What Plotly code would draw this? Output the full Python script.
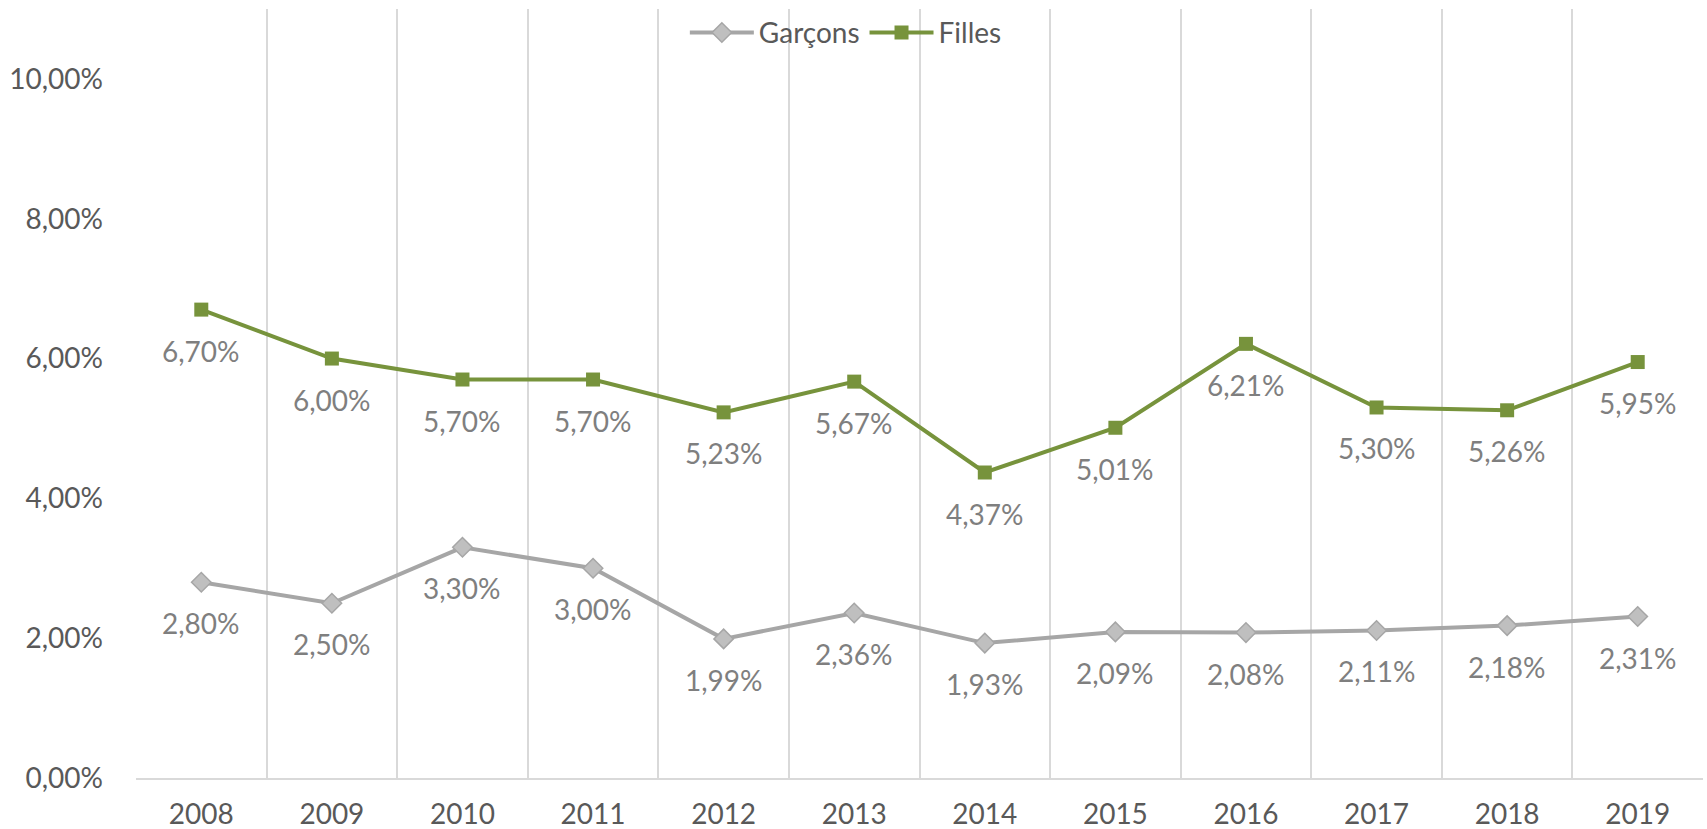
import plotly.graph_objects as go

years = ["2008", "2009", "2010", "2011", "2012", "2013", "2014", "2015", "2016", "2017", "2018", "2019"]
garcons = [2.80, 2.50, 3.30, 3.00, 1.99, 2.36, 1.93, 2.09, 2.08, 2.11, 2.18, 2.31]
filles = [6.70, 6.00, 5.70, 5.70, 5.23, 5.67, 4.37, 5.01, 6.21, 5.30, 5.26, 5.95]
y_tickvals = [0, 2, 4, 6, 8, 10]
y_ticktext = ["0,00%", "2,00%", "4,00%", "6,00%", "8,00%", "10,00%"]

GRAY_LINE = "#A6A6A6"
GRAY_FILL = "#BFBFBF"
GREEN = "#77933C"
TXT = "#595959"
LBL = "#7F7F7F"
FONT = "Lato"
FS = 28


def fmt(v):
    return f"{v:.2f}".replace(".", ",") + "%"


fig = go.Figure()
fig.add_trace(go.Scatter(
    x=years, y=garcons, name="Garçons", mode="lines+markers",
    line=dict(color=GRAY_LINE, width=4),
    marker=dict(symbol="diamond", size=15, color=GRAY_FILL, line=dict(color=GRAY_LINE, width=1.5)),
))
fig.add_trace(go.Scatter(
    x=years, y=filles, name="Filles", mode="lines+markers",
    line=dict(color=GREEN, width=4),
    marker=dict(symbol="square", size=14, color=GREEN),
))

annotations = []
for i, v in enumerate(garcons):
    annotations.append(dict(x=i, y=v, xref="x", yref="y", text=fmt(v), showarrow=False, yshift=-41,
                            font=dict(family=FONT, size=FS, color=LBL)))
for i, v in enumerate(filles):
    annotations.append(dict(x=i, y=v, xref="x", yref="y", text=fmt(v), showarrow=False, yshift=-41,
                            font=dict(family=FONT, size=FS, color=LBL)))

fig.update_layout(
    width=1707, height=829,
    margin=dict(l=136, r=4, t=9, b=51, autoexpand=False),
    paper_bgcolor="white", plot_bgcolor="white",
    font=dict(family=FONT, color=TXT, size=FS),
    annotations=annotations,
    showlegend=True,
    legend=dict(orientation="h", x=0.453, xanchor="center", y=0.969, yanchor="middle",
                bgcolor="rgba(0,0,0,0)", font=dict(family=FONT, size=FS, color=TXT),
                itemwidth=64, traceorder="normal"),
    xaxis=dict(type="category", range=[-0.5, 11.5], tickson="boundaries", showgrid=True,
               gridcolor="#D9D9D9", gridwidth=1.5, showline=True, linecolor="#D9D9D9", linewidth=1.5,
               ticks="", ticklabelstandoff=11, tickfont=dict(family=FONT, size=FS, color=TXT),
               zeroline=False, automargin=False),
    yaxis=dict(range=[0, 11], tickmode="array", tickvals=y_tickvals, ticktext=y_ticktext,
               showgrid=False, zeroline=False, showline=False, ticks="",
               ticklabelstandoff=32, tickfont=dict(family=FONT, size=FS, color=TXT),
               automargin=False),
)

fig.write_html("out.html", config={"displayModeBar": False},
               post_script="document.body.style.margin='0';document.body.style.overflow='hidden';")
